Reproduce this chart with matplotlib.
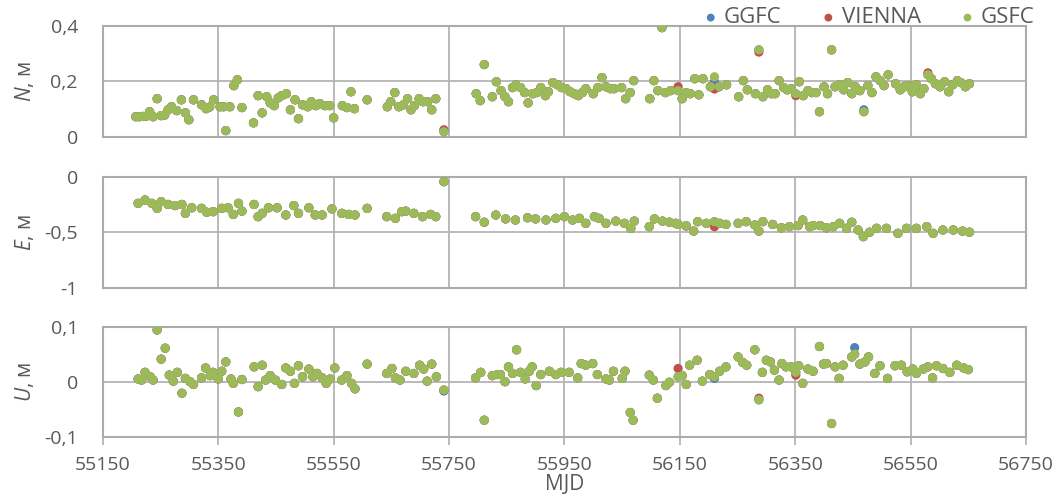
import matplotlib
matplotlib.use("Agg")
import matplotlib.pyplot as plt
from matplotlib.ticker import FuncFormatter, FixedLocator, MultipleLocator

# --- data (MJD, metres) ---

mjd_n = [55207, 55213, 55219, 55225, 55231, 55237, 55244, 55251, 55257, 55263,
         55269, 55278, 55286, 55293, 55299, 55307, 55321, 55329, 55335, 55342,
         55353, 55359, 55363, 55370, 55377, 55383, 55391, 55411, 55419, 55426,
         55434, 55440, 55447, 55454, 55460, 55468, 55475, 55483, 55489, 55496,
         55505, 55511, 55519, 55526, 55535, 55543, 55550, 55565, 55573, 55580,
         55586, 55608, 55643, 55649, 55656, 55663, 55671, 55678, 55684, 55690,
         55698, 55705, 55713, 55720, 55727, 55741,
         55797, 55804, 55811, 55825, 55832, 55840, 55847, 55853, 55860, 55866,
         55874, 55881, 55887, 55895, 55902, 55909, 55917, 55922, 55930, 55938,
         55945, 55953, 55960, 55967, 55974, 55981, 55987, 56000, 56008, 56015,
         56022, 56030, 56036, 56049, 56056, 56064, 56070, 56098, 56105, 56112,
         56119, 56125, 56134, 56147, 56154, 56161, 56168, 56176, 56183, 56190,
         56203, 56210, 56218, 56231, 56252, 56260, 56267, 56281, 56287, 56294,
         56302, 56309, 56315, 56322, 56330, 56336, 56343, 56351, 56357, 56364,
         56372, 56379, 56386, 56392, 56400, 56406, 56413, 56419, 56427, 56434,
         56441, 56448, 56454, 56462, 56469, 56476, 56483, 56490, 56497, 56504,
         56511, 56524, 56532, 56539, 56546, 56553, 56560, 56567, 56573, 56580,
         56586, 56593, 56601, 56609, 56616, 56623, 56631, 56637, 56645, 56652]
n_gsfc = [0.072, 0.072, 0.073, 0.074, 0.090, 0.072, 0.137, 0.076, 0.078, 0.097,
          0.108, 0.094, 0.133, 0.086, 0.061, 0.133, 0.115, 0.101, 0.107, 0.133,
          0.108, 0.108, 0.022, 0.108, 0.184, 0.205, 0.105, 0.050, 0.148, 0.086,
          0.144, 0.122, 0.112, 0.140, 0.148, 0.155, 0.097, 0.133, 0.065, 0.115,
          0.108, 0.126, 0.112, 0.119, 0.112, 0.112, 0.068, 0.112, 0.105, 0.162,
          0.101, 0.133, 0.108, 0.126, 0.159, 0.108, 0.115, 0.137, 0.097, 0.112,
          0.137, 0.126, 0.126, 0.097, 0.137, 0.018,
          0.155, 0.130, 0.260, 0.144, 0.198, 0.166, 0.144, 0.126, 0.177, 0.187,
          0.177, 0.159, 0.122, 0.155, 0.159, 0.177, 0.148, 0.162, 0.195, 0.187,
          0.177, 0.173, 0.162, 0.155, 0.148, 0.159, 0.173, 0.155, 0.177, 0.213,
          0.180, 0.173, 0.173, 0.177, 0.137, 0.159, 0.202, 0.137, 0.202, 0.166,
          0.393, 0.159, 0.166, 0.166, 0.137, 0.159, 0.155, 0.209, 0.151, 0.209,
          0.180, 0.216, 0.180, 0.187, 0.144, 0.202, 0.169, 0.155, 0.313, 0.144,
          0.169, 0.155, 0.155, 0.202, 0.177, 0.169, 0.173, 0.155, 0.198, 0.148,
          0.166, 0.159, 0.159, 0.090, 0.180, 0.155, 0.313, 0.180, 0.187, 0.169,
          0.195, 0.155, 0.180, 0.166, 0.090, 0.184, 0.159, 0.216, 0.202, 0.184,
          0.223, 0.191, 0.169, 0.180, 0.184, 0.162, 0.187, 0.155, 0.173, 0.223,
          0.209, 0.191, 0.180, 0.198, 0.162, 0.187, 0.202, 0.195, 0.180, 0.191]

mjd_e = [55211, 55223, 55235, 55244, 55251, 55263, 55275, 55287, 55293, 55304,
         55321, 55330, 55341, 55356, 55367, 55376, 55385, 55391, 55412, 55419,
         55426, 55437, 55452, 55467, 55481, 55489, 55507, 55518, 55530, 55547,
         55564, 55576, 55587, 55608, 55642, 55657, 55668, 55675, 55689, 55704,
         55718, 55727, 55741,
         55796, 55811, 55831, 55848, 55865, 55886, 55900, 55918, 55935, 55950,
         55964, 55976, 55987, 56002, 56010, 56022, 56039, 56054, 56065, 56071,
         56097, 56106, 56120, 56132, 56143, 56147, 56161, 56174, 56181, 56196,
         56210, 56219, 56230, 56251, 56265, 56280, 56287, 56294, 56311, 56326,
         56340, 56355, 56363, 56375, 56381, 56393, 56404, 56416, 56427, 56439,
         56448, 56459, 56468, 56479, 56491, 56508, 56528, 56543, 56560, 56578,
         56589, 56606, 56624, 56640, 56652]
e_gsfc = [-0.24, -0.21, -0.24, -0.285, -0.225, -0.25, -0.26, -0.25, -0.33, -0.28,
          -0.285, -0.32, -0.315, -0.285, -0.28, -0.34, -0.24, -0.31, -0.25, -0.36,
          -0.33, -0.28, -0.28, -0.345, -0.26, -0.33, -0.28, -0.345, -0.345, -0.29,
          -0.33, -0.34, -0.345, -0.285, -0.36, -0.375, -0.315, -0.31, -0.33, -0.36,
          -0.34, -0.36, -0.045,
          -0.36, -0.41, -0.345, -0.38, -0.39, -0.37, -0.38, -0.39, -0.375, -0.36,
          -0.39, -0.375, -0.42, -0.36, -0.375, -0.42, -0.40, -0.42, -0.465, -0.40,
          -0.45, -0.38, -0.40, -0.41, -0.42, -0.43, -0.44, -0.49, -0.405, -0.42,
          -0.405, -0.42, -0.43, -0.42, -0.405, -0.435, -0.49, -0.405, -0.43, -0.46,
          -0.45, -0.44, -0.39, -0.45, -0.44, -0.44, -0.46, -0.45, -0.42, -0.465,
          -0.41, -0.48, -0.54, -0.50, -0.465, -0.465, -0.51, -0.465, -0.465, -0.45,
          -0.51, -0.48, -0.48, -0.49, -0.50]

mjd_u = [55211, 55217, 55223, 55232, 55237, 55244, 55251, 55258, 55265, 55272,
         55279, 55287, 55293, 55301, 55307, 55321, 55328, 55336, 55341, 55350,
         55356, 55363, 55372, 55376, 55385, 55391, 55412, 55419, 55426, 55432,
         55440, 55449, 55460, 55467, 55475, 55482, 55489, 55496, 55507, 55514,
         55521, 55530, 55537, 55544, 55552, 55564, 55573, 55581, 55587, 55608,
         55642, 55651, 55657, 55665, 55675, 55689, 55699, 55706, 55712, 55720,
         55728, 55741,
         55796, 55805, 55811, 55825, 55834, 55839, 55847, 55853, 55860, 55867,
         55874, 55882, 55889, 55894, 55901, 55909, 55924, 55935, 55944, 55958,
         55973, 55979, 55987, 55999, 56007, 56022, 56028, 56035, 56050, 56055,
         56064, 56069, 56097, 56104, 56111, 56126, 56132, 56147, 56154, 56161,
         56167, 56180, 56189, 56202, 56210, 56219, 56230, 56251, 56259, 56266,
         56280, 56287, 56293, 56300, 56307, 56314, 56322, 56327, 56334, 56343,
         56351, 56356, 56363, 56372, 56381, 56392, 56399, 56404, 56413, 56419,
         56426, 56433, 56448, 56453, 56462, 56471, 56477, 56488, 56497, 56510,
         56523, 56534, 56544, 56554, 56560, 56572, 56580, 56588, 56595, 56606,
         56618, 56630, 56642, 56650]
u_gsfc = [0.005, 0.003, 0.017, 0.009, 0.003, 0.094, 0.041, 0.061, 0.012, 0.001,
          0.017, -0.021, 0.006, 0.000, -0.005, 0.007, 0.025, 0.011, 0.017, 0.005,
          0.019, 0.036, 0.005, -0.003, -0.055, 0.004, 0.027, -0.009, 0.030, 0.003,
          0.011, 0.003, -0.005, 0.025, 0.019, -0.003, 0.029, 0.009, 0.023, 0.009,
          0.015, 0.007, -0.003, 0.005, 0.025, 0.003, 0.011, -0.003, -0.013, 0.032,
          0.015, 0.024, 0.007, 0.003, 0.019, 0.015, 0.030, 0.023, 0.001, 0.032,
          0.009, -0.015,
          0.007, 0.017, -0.070, 0.011, 0.013, 0.013, 0.000, 0.027, 0.015, 0.058,
          0.017, 0.005, 0.019, 0.027, -0.007, 0.013, 0.019, 0.013, 0.017, 0.017,
          0.007, 0.033, 0.030, 0.033, 0.013, 0.005, 0.003, 0.019, 0.006, 0.019,
          -0.056, -0.070, 0.012, 0.003, -0.030, -0.007, -0.001, 0.009, 0.011, -0.005,
          0.030, 0.039, 0.001, 0.013, 0.009, 0.019, 0.027, 0.045, 0.035, 0.030,
          0.058, -0.033, 0.017, 0.039, 0.036, 0.021, 0.003, 0.033, 0.027, 0.027,
          0.017, 0.029, -0.003, 0.023, 0.019, 0.064, 0.032, 0.033, -0.076, 0.027,
          0.006, 0.030, 0.045, 0.050, 0.032, 0.036, 0.045, 0.015, 0.029, 0.006,
          0.029, 0.030, 0.018, 0.023, 0.015, 0.023, 0.027, 0.007, 0.029, 0.024,
          0.017, 0.030, 0.025, 0.022]

# where the other two solutions visibly differ from GSFC
vienna_n_diff = {55741: 0.025, 56147: 0.180, 56210: 0.172, 56287: 0.305, 56351: 0.148, 56580: 0.230}
ggfc_n_diff = {56210: 0.198, 56469: 0.097}
vienna_e_diff = {56161: -0.445, 56210: -0.45}
ggfc_e_diff = {}
vienna_u_diff = {56147: 0.024, 56287: -0.030, 56351: 0.012}
ggfc_u_diff = {55741: -0.017, 56210: 0.006, 56453: 0.062}

series_names = ['GGFC', 'VIENNA', 'GSFC']
colors = ['#4F81BD', '#C0504D', '#9BBB59']
x_ticks = [55150, 55350, 55550, 55750, 55950, 56150, 56350, 56550, 56750]


def with_changes(x, y, changes):
    y2 = list(y)
    for m, v in changes.items():
        y2[x.index(m)] = v
    return y2


plt.rcParams['font.family'] = ['Open Sans', 'DejaVu Sans']
plt.rcParams['mathtext.fontset'] = 'custom'
plt.rcParams['mathtext.rm'] = 'Open Sans'
plt.rcParams['mathtext.it'] = 'Open Sans:italic'

fig = plt.figure(figsize=(10.62, 5.03), dpi=100)
left, width = 0.0969, 0.8692
boxes = [(0.7282, 0.2207), (0.4280, 0.2207), (0.1318, 0.2187)]

panels = [
    (mjd_n, n_gsfc, ggfc_n_diff, vienna_n_diff, (0, 0.4), 0.2, r'$N$, м'),
    (mjd_e, e_gsfc, ggfc_e_diff, vienna_e_diff, (-1, 0), 0.5, r'$E$, м'),
    (mjd_u, u_gsfc, ggfc_u_diff, vienna_u_diff, (-0.1, 0.1), 0.1, r'$U$, м'),
]

grid_col = '#B4B4B4'
text_col = '#595959'

def comma_fmt(v, pos):
    s = ('%.2f' % v).rstrip('0').rstrip('.')
    if s in ('-0', ''):
        s = '0'
    return s.replace('.', ',')

axes = []
for i, (x, y, gdiff, vdiff, ylim, step, lab) in enumerate(panels):
    b, h = boxes[i]
    ax = fig.add_axes([left, b, width, h])
    axes.append(ax)
    ys = [with_changes(x, y, gdiff), with_changes(x, y, vdiff), y]
    for name, col, yy in zip(series_names, colors, ys):
        ax.scatter(x, yy, s=44, color=col, edgecolors='none', label=name, zorder=3)
    ax.set_xlim(55150, 56750)
    ax.set_ylim(*ylim)
    ax.xaxis.set_major_locator(FixedLocator(x_ticks))
    ax.yaxis.set_major_locator(MultipleLocator(step))
    ax.yaxis.set_major_formatter(FuncFormatter(comma_fmt))
    ax.grid(True, color=grid_col, lw=1.3, zorder=0)
    for sp in ax.spines.values():
        sp.set_color('#ABABAB')
        sp.set_linewidth(1.5)
    ax.tick_params(axis='y', length=0, pad=18, labelsize=14, labelcolor=text_col)
    ax.set_ylabel(lab, fontsize=15, color=text_col, labelpad=4)
    ax.yaxis.set_label_coords(-0.072, 0.5)
    if i < 2:
        ax.tick_params(axis='x', length=0, labelbottom=False)
    else:
        ax.tick_params(axis='x', length=6, width=1.3, color=grid_col, direction='out',
                       pad=8, labelsize=14, labelcolor=text_col)
        ax.set_xlabel('MJD', fontsize=15, color=text_col, labelpad=0)

handles, labels = axes[0].get_legend_handles_labels()
fig.legend(handles, labels, loc='upper right', bbox_to_anchor=(0.993, 1.025), ncol=3,
           frameon=False, fontsize=16, labelcolor=text_col, handletextpad=0.1,
           columnspacing=1.6, handlelength=1.0, markerscale=0.85)

fig.savefig('out.png', dpi=100)
